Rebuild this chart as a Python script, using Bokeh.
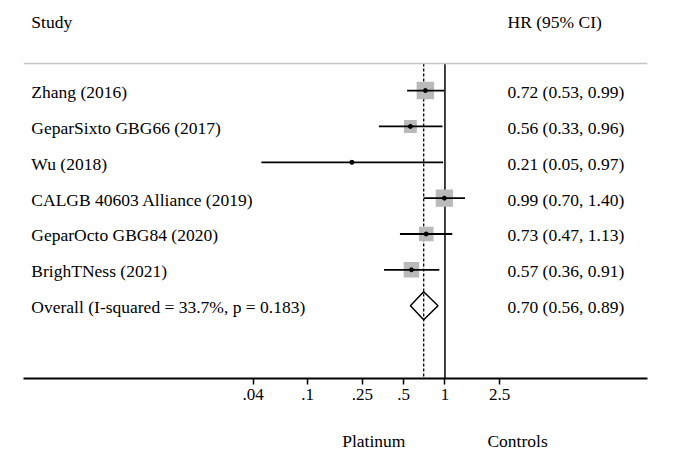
from bokeh.plotting import figure
from bokeh.models import Range1d, FixedTicker, Span, ColumnDataSource, LogAxis
from bokeh.core.properties import value
from bokeh.embed import file_html
from bokeh.resources import INLINE
import math

# ---- data ----
studies = ["Zhang (2016)", "GeparSixto GBG66 (2017)", "Wu (2018)",
           "CALGB 40603 Alliance (2019)", "GeparOcto GBG84 (2020)", "BrighTNess (2021)"]
hr = [0.72, 0.56, 0.21, 0.99, 0.73, 0.57]
lo = [0.53, 0.33, 0.046, 0.70, 0.47, 0.36]
hi = [0.99, 0.96, 0.97, 1.40, 1.13, 0.91]
weights = [24.6, 13.4, 1.5, 24.0, 17.2, 19.3]
overall_label = "Overall  (I-squared = 33.7%, p = 0.183)"
overall_hr = 0.70
overall_lo = 0.56
overall_hi = 0.89
ticks = [0.04, 0.1, 0.25, 0.5, 1, 2.5]
tick_labels = [".04", ".1", ".25", ".5", "1", "2.5"]
favours = ["Platinum", "Controls"]
headers = ["Study", "HR (95% CI)"]

FONT = "Liberation Serif"
FS = "17.5px"

n = len(studies)
rows = list(range(1, n + 1))
orow = n + 1
TOP = 0.246      # row position of the header rule
BOTTOM = 9.03    # row position of the x axis
HEAD = -0.95     # row position of the header texts

p = figure(width=672, height=460, x_axis_type="log",
           x_range=Range1d(0.00085, 29.9), y_range=Range1d(BOTTOM, -1.512),
           y_axis_location=None, output_backend="svg", toolbar_location=None,
           min_border_left=23, min_border_right=25, min_border_top=0,
           min_border_bottom=82)
p.outline_line_color = None
p.grid.visible = False
p.background_fill_color = "white"

src = ColumnDataSource(dict(
    y=rows, hr=hr, lo=lo, hi=hi, study=studies,
    size=[3.53 * math.sqrt(w) for w in weights],
    ci=[f"{h:.2f} ({l:.2f}, {u:.2f})" for h, l, u in zip(hr, lo, hi)],
))

LEFT_X = 0.00097
RIGHT_X = 2.86

# reference lines (from header rule down to the axis)
p.segment(x0=[1], y0=[TOP], x1=[1], y1=[BOTTOM], line_color="black", line_width=1.5)
p.segment(x0=[overall_hr], y0=[TOP], x1=[overall_hr], y1=[BOTTOM], line_color="black",
          line_width=1.3, line_dash="3 2")
p.add_layout(Span(location=TOP, dimension="width", line_color="#c4c4c4", line_width=1.5))

p.scatter(x="hr", y="y", size="size", marker="square", source=src,
          fill_color="#bababa", line_color=None)
p.segment(x0="lo", y0="y", x1="hi", y1="y", source=src,
          line_color="black", line_width=1.8)
p.scatter(x="hr", y="y", size=4, source=src, color="black")

# overall diamond
h = 0.39
p.patch(x=[overall_lo, overall_hr, overall_hi, overall_hr],
        y=[orow, orow - h, orow, orow + h],
        fill_color=None, line_color="black", line_width=1.5)

p.text(x=[LEFT_X] * (n + 2), y=[HEAD] + rows + [orow],
       text=[headers[0]] + studies + [overall_label],
       text_baseline="middle", text_align="left", y_offset=1.5,
       text_font=value(FONT), text_font_size=FS, text_color="black")
p.text(x=[RIGHT_X] * (n + 2), y=[HEAD] + rows + [orow],
       text=[headers[1]] + list(src.data["ci"]) +
            [f"{overall_hr:.2f} ({overall_lo:.2f}, {overall_hi:.2f})"],
       text_baseline="middle", text_align="left", y_offset=1.5,
       text_font=value(FONT), text_font_size=FS, text_color="black")

ax = p.xaxis[0]
ax.ticker = FixedTicker(ticks=ticks)
ax.major_label_overrides = {t: l for t, l in zip(ticks, tick_labels)}
ax.axis_line_width = 2
ax.axis_line_color = "black"
ax.major_tick_line_width = 1.5
ax.major_tick_line_color = "black"
ax.major_tick_out = 6
ax.major_tick_in = 0
ax.minor_tick_line_color = None
ax.major_label_text_font = FONT
ax.major_label_text_font_size = "17px"
ax.major_label_text_color = "black"
ax.major_label_standoff = 4

# favour labels as a second, line-less axis below
fav_pos = [0.303, 3.38]
fax = LogAxis(ticker=FixedTicker(ticks=fav_pos),
              major_label_overrides={t: l for t, l in zip(fav_pos, favours)},
              axis_line_color=None, major_tick_line_color=None,
              minor_tick_line_color=None, major_label_standoff=22,
              major_label_text_font=FONT, major_label_text_font_size=FS,
              major_label_text_color="black")
p.add_layout(fax, "below")

open("out.html", "w").write(file_html(p, INLINE))
